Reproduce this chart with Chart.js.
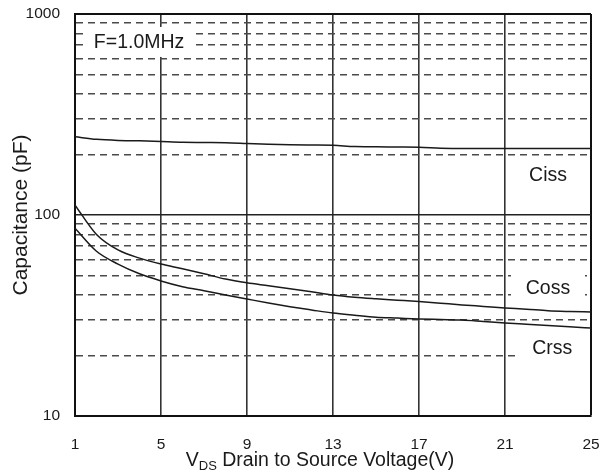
<!DOCTYPE html>
<html>
<head>
<meta charset="utf-8">
<title>Capacitance vs VDS</title>
<script src="https://cdn.jsdelivr.net/npm/chart.js@4/dist/chart.umd.min.js"></script>
<style>
  html, body { margin: 0; padding: 0; background: #fff; }
  canvas { display: block; }
</style>
</head>
<body>
<canvas id="capChart" width="602" height="476"></canvas>
<script>
'use strict';

/* ── Data ──────────────────────────────────────────────────────────────── */
const vds  = [1, 2, 3, 4, 5, 6, 7, 8, 9, 10, 11, 12, 13, 14, 15, 16, 17, 18, 19, 20, 21, 22, 23, 24, 25];
const ciss = [245, 238, 235, 234, 232, 230, 229.5, 229, 227, 225, 223.5, 223, 222.5, 219, 218.5, 218, 217.5, 215, 214, 214, 214, 214, 214, 214, 214];
const coss = [112, 80, 67, 61, 57, 54, 51, 48, 46, 44.5, 43, 41.5, 40, 39, 38.3, 37.7, 37.1, 36.4, 35.7, 35.1, 34.5, 34, 33.4, 33.1, 32.9];
const crss = [86, 66, 57, 51, 47, 44, 42, 40, 38.2, 36.5, 35, 33.7, 32.5, 31.7, 31, 30.7, 30.4, 30.2, 30, 29.5, 29, 28.6, 28.2, 27.8, 27.4];

const xTicks      = [1, 5, 9, 13, 17, 21, 25];
const yGridValues = [10, 20, 30, 40, 50, 60, 70, 80, 90, 100, 200, 300, 400, 500, 600, 700, 800, 900, 1000];
const yLabelled   = [10, 100, 1000];

// curve labels (text, V, pF)
const notes = [
  { text: 'F=1.0MHz', x: 3.98, y: 726, box: [55, 15] },
  { text: 'Ciss',     x: 23.0, y: 158, box: [36, 14] },
  { text: 'Coss',     x: 23.0, y: 43.3, box: [37, 14] },
  { text: 'Crss',     x: 23.2, y: 21.8, box: [35, 14] }
];

/* ── Helpers ───────────────────────────────────────────────────────────── */
const INK  = '#1a1a1a';
const FONT = '"Liberation Sans", Arial, sans-serif';
const isDecade = v => yLabelled.includes(v);
const pts = ys => vds.map((v, i) => ({ x: v, y: ys[i] }));

function curve(ys) {
  return {
    data: pts(ys),
    borderColor: INK,
    borderWidth: 1.5,
    pointRadius: 0,
    cubicInterpolationMode: 'monotone',
    fill: false
  };
}

/* ── Plugin: label boxes (under curves, over grid) ─────────────────────── */
const notePlugin = {
  id: 'notes',
  beforeDatasetsDraw(chart) {
    const { ctx, scales: { x, y } } = chart;
    ctx.save();
    ctx.font = '19.5px ' + FONT;
    ctx.textAlign = 'center';
    ctx.textBaseline = 'middle';
    notes.forEach(n => {
      const px = x.getPixelForValue(n.x);
      const py = y.getPixelForValue(n.y);
      ctx.fillStyle = '#fff';
      ctx.fillRect(px - n.box[0], py - n.box[1], n.box[0] * 2, n.box[1] * 2);
      ctx.fillStyle = INK;
      ctx.fillText(n.text, px, py + 1);
    });
    ctx.restore();
  }
};

/* ── Plugin: x-axis title with subscript ───────────────────────────────── */
const xTitlePlugin = {
  id: 'xTitle',
  afterDraw(chart) {
    const { ctx } = chart;
    const big = '19.5px ' + FONT, small = '13px ' + FONT;
    const parts = [
      { t: 'V', f: big, dy: 0 },
      { t: 'DS', f: small, dy: 4 },
      { t: ' Drain to Source Voltage(V)', f: big, dy: 0 }
    ];
    ctx.save();
    ctx.fillStyle = INK;
    ctx.textBaseline = 'alphabetic';
    let total = 0;
    parts.forEach(p => { ctx.font = p.f; p.w = ctx.measureText(p.t).width; total += p.w; });
    let cx = 320 - total / 2;
    const base = 466;
    parts.forEach(p => {
      ctx.font = p.f;
      ctx.fillText(p.t, cx, base + p.dy);
      cx += p.w;
    });
    ctx.restore();
  }
};

/* ── Chart ─────────────────────────────────────────────────────────────── */
new Chart(document.getElementById('capChart'), {
  type: 'line',
  data: { datasets: [curve(ciss), curve(coss), curve(crss)] },
  options: {
    responsive: false,
    animation: false,
    events: [],
    layout: { padding: { top: 14, right: 11, left: 0, bottom: 0 } },
    plugins: { legend: { display: false }, tooltip: { enabled: false } },
    scales: {
      x: {
        type: 'linear',
        min: 1,
        max: 25,
        afterBuildTicks: s => { s.ticks = xTicks.map(v => ({ value: v })); },
        afterFit: s => { s.height = 60; s.paddingLeft = 0; s.paddingRight = 0; },
        ticks: { color: INK, padding: 19, font: { family: FONT, size: 15.5 } },
        grid: {
          drawTicks: false,
          color: c => (c.tick && c.tick.value === 25) ? '#111' : '#333',
          lineWidth: c => (c.tick && c.tick.value === 25) ? 2 : 1.6
        },
        border: { display: true, color: '#111', width: 2 }
      },
      y: {
        type: 'logarithmic',
        min: 10,
        max: 1000,
        afterBuildTicks: s => { s.ticks = yGridValues.map(v => ({ value: v })); },
        afterFit: s => { s.width = 75; s.paddingTop = 0; s.paddingBottom = 0; },
        ticks: {
          color: INK,
          padding: 15,
          font: { family: FONT, size: 15.5 },
          callback: v => isDecade(v) ? String(v) : ''
        },
        grid: {
          drawTicks: false,
          color: c => {
            if (!c.tick) return '#111';
            if (c.tick.value === 1000) return '#111';
            return isDecade(c.tick.value) ? '#222' : '#4a4a4a';
          },
          lineWidth: c => {
            if (!c.tick) return 1;
            if (c.tick.value === 1000) return 2;
            return isDecade(c.tick.value) ? 1.6 : 1.5;
          }
        },
        border: {
          display: true,
          color: '#111',
          width: 2,
          dash: c => (c.tick && !isDecade(c.tick.value)) ? [7, 5] : []
        },
        title: {
          display: true,
          text: 'Capacitance (pF)',
          color: INK,
          padding: { top: 9, bottom: 0 },
          font: { family: FONT, size: 21, weight: 'normal' }
        }
      }
    }
  },
  plugins: [notePlugin, xTitlePlugin]
});
</script>
</body>
</html>
